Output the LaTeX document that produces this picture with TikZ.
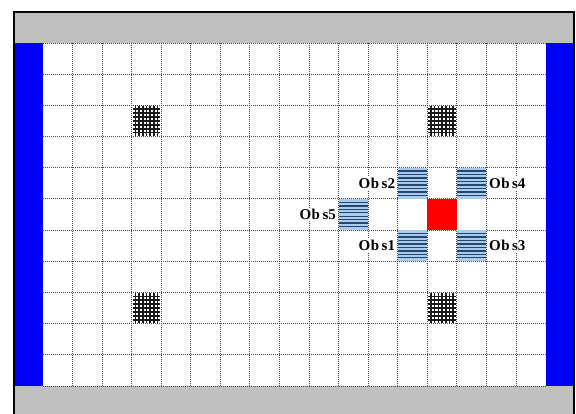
\documentclass[tikz,border=0pt]{standalone}
\usepackage{fontspec}
\setmainfont{Liberation Serif}
\definecolor{gbar}{HTML}{C0C0C0}
\definecolor{wallblue}{HTML}{0000F8}
\definecolor{stripebg}{HTML}{A8CCEE}
\definecolor{stripefg}{HTML}{27456E}
\definecolor{goalred}{HTML}{FF0000}
\begin{document}
\begin{tikzpicture}[x=1pt,y=-1pt,
  gridline/.style={black!72,line width=0.9pt,dash pattern=on 1.4pt off 0.6pt},
  framel/.style={black,line width=2pt},
  lab/.style={fill=white,inner sep=1.5pt,font=\fontsize{15}{17}\selectfont\bfseries},
  hatchl/.style={black!90,line width=1.6pt},
  stripel/.style={stripefg,line width=1.4pt}]
\def\cw{29.56}
\def\ch{31.18}
\useasboundingbox (0,0) rectangle (576,414);
\clip (0,0) rectangle (576,414);
\fill[white] (0,0) rectangle (576,414);
% bands
\fill[gbar] (14,12) rectangle (574,43);
\fill[gbar] (14,386) rectangle (574,420);
\fill[wallblue] (14,43) rectangle (43,386);
\fill[wallblue] (545.5,43) rectangle (573,386);
% grid
\foreach \i in {1,...,16} \draw[gridline] ({43+\i*\cw},43) -- ({43+\i*\cw},386);
\foreach \j in {0,...,11} \draw[gridline] (43,{43+\j*\ch}) -- (545.5,{43+\j*\ch});
% crosshatched obstacles
\foreach \c/\r in {3/2,13/2,3/8,13/8}{
  \foreach \k in {1,...,7}{
    \draw[hatchl] ({43+\c*\cw+\k*\cw/8},{43+\r*\ch+1}) -- ({43+\c*\cw+\k*\cw/8},{43+(\r+1)*\ch-1});
    \draw[hatchl] ({43+\c*\cw+1},{43+\r*\ch+\k*\ch/8}) -- ({43+(\c+1)*\cw-1},{43+\r*\ch+\k*\ch/8});
  }
}
% striped obstacles
\foreach \c/\r in {12/4,14/4,10/5,12/6,14/6}{
  \fill[stripebg] ({43+\c*\cw},{43+\r*\ch}) rectangle ({43+(\c+1)*\cw},{43+(\r+1)*\ch});
  \foreach \k in {1,...,8}{
    \draw[stripel] ({43+\c*\cw},{43+\r*\ch+\k*\ch/9}) -- ({43+(\c+1)*\cw},{43+\r*\ch+\k*\ch/9});
  }
}
% goal
\fill[goalred] ({43+13*\cw},{43+5*\ch}) rectangle ({43+14*\cw},{43+6*\ch});
% labels
\node[lab,anchor=east] (obs2) at ({43+12*\cw-1},{43+4.5*\ch}) {O\kern0.5pt b\kern2.5pt s2};
\node[lab,anchor=west] (obs4) at ({43+15*\cw+1},{43+4.5*\ch}) {O\kern0.5pt b\kern2.5pt s4};
\node[lab,anchor=east] (obs5) at ({43+10*\cw-1},{43+5.5*\ch}) {O\kern0.5pt b\kern2.5pt s5};
\node[lab,anchor=east] (obs1) at ({43+12*\cw-1},{43+6.5*\ch}) {O\kern0.5pt b\kern2.5pt s1};
\node[lab,anchor=west] (obs3) at ({43+15*\cw+1},{43+6.5*\ch}) {O\kern0.5pt b\kern2.5pt s3};
% frame
\draw[framel] (14,420) -- (14,12) -- (574,12) -- (574,420);
\end{tikzpicture}
\end{document}
